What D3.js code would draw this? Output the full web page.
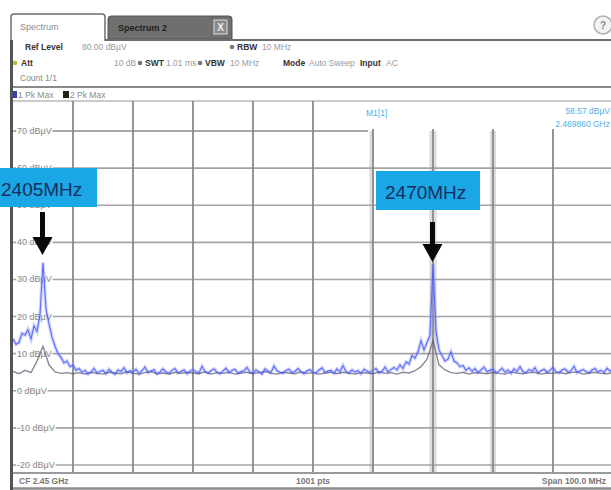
<!DOCTYPE html>
<html>
<head>
<meta charset="utf-8">
<script src="https://cdn.jsdelivr.net/npm/d3@7/dist/d3.min.js"></script>
<style>
  html, body { margin: 0; padding: 0; background: #ffffff; }
  svg { display: block; font-family: "Liberation Sans", Arial, sans-serif; }
</style>
</head>
<body>
<svg id="chart" width="611" height="490"></svg>
<script>
// ---------------- DATA ----------------
const freqStartMHz = 2400;
const freqStopMHz = 2500;
const yTickValues = [70, 60, 50, 40, 30, 20, 10, 0, -10, -20];
const yTickLabels = ["70 dBµV", "60 dBµV", "50 dBµV", "40 dBµV", "30 dBµV", "20 dBµV", "10 dBµV", "0 dBµV", "-10 dBµV", "-20 dBµV"];
const xGridFreqs = [2410, 2420, 2430, 2440, 2450, 2460, 2470, 2480, 2490];

// Trace 1 (blue, Pk Max) sampled every 0.5 MHz from 2400 to 2500 MHz
const trace1 = [
  14, 12.5, 13, 15.5, 15, 16.5, 14, 17.5, 16, 20.5, 34.5, 22, 18, 14.5, 12, 10, 9, 7.5, 8, 6.5,
  7, 5.5, 6, 5, 5.5, 4.5, 5, 6, 4.8, 5.2, 5.5, 4.6, 5.8, 5, 4.4, 5.6, 5.2, 6.2, 4.8, 5.4,
  5, 5.8, 4.6, 5.4, 6.4, 4.9, 5.3, 5.7, 4.5, 5.1, 5.9, 5, 4.7, 5.5, 6, 4.8, 5.2, 5.6, 4.6, 5.3,
  5.7, 5.1, 4.8, 6.6, 5.2, 4.7, 5.4, 5.9, 5, 4.6, 5.3, 6.1, 4.9, 5.5, 5.8, 4.7, 5.2, 5.4, 6.3, 5,
  4.8, 5.6, 5.1, 4.5, 5.9, 5.3, 4.9, 6.7, 5.4, 5, 4.7, 5.5, 5.8, 4.9, 5.2, 6, 5.1, 4.6, 5.4, 5.7,
  5, 4.8, 5.6, 6.2, 4.9, 5.3, 5.5, 4.7, 5.9, 5.1, 6.8, 5.2, 4.8, 5.6, 5, 5.4, 4.6, 5.8, 5.3, 4.9,
  5.5, 6, 4.8, 5.2, 6.4, 5, 5.7, 6.3, 5.6, 7, 6, 7.8, 7.2, 9.5, 8.8, 10.5, 13.5, 11, 13, 15,
  34, 16, 11, 9.5, 8, 8.5, 10.5, 8, 7.5, 6.5, 6.8, 5.5, 6.2, 5.2, 6, 4.9, 5.6, 6.4, 5.1, 5.5,
  5.8, 4.8, 5.3, 6.1, 5, 5.6, 4.7, 5.9, 5.2, 6.5, 5.1, 4.9, 5.7, 5.3, 6.2, 4.8, 5.4, 5.8, 5, 5.5,
  6.3, 5.1, 4.8, 5.6, 5.9, 5, 5.4, 6.6, 4.9, 5.3, 5.7, 5.2, 4.8, 5.6, 6, 5.1, 5.5, 4.9, 6.1, 5.3, 5.8
];
// Trace 2 (dark, second trace) sampled every 1 MHz from 2400 to 2500 MHz
const trace2 = [
  5.2, 4.6, 5.5, 4.9, 8, 12, 7, 5.1, 4.7, 4.9,
  4.6, 4.9, 4.5, 5, 4.7, 4.5, 5, 4.8, 4.6, 5.1,
  4.7, 4.5, 4.9, 5.2, 4.6, 4.8, 4.5, 5, 4.7, 5,
  4.8, 4.6, 5.1, 4.5, 4.9, 4.7, 5, 4.5, 4.8, 5,
  4.6, 4.9, 5.2, 4.7, 4.5, 5, 4.8, 4.6, 5.1, 4.7,
  4.9, 4.5, 4.8, 5, 4.6, 5, 4.7, 4.5, 4.9, 4.8,
  4.6, 5.1, 4.7, 4.9, 4.5, 5, 4.8, 5.4, 6.5, 8.5,
  13.5, 7, 5.6, 4.9, 4.7, 5, 4.5, 4.9, 4.8, 4.6,
  5, 4.7, 4.5, 5.1, 4.8, 4.6, 4.9, 5, 4.5, 4.8,
  4.7, 5, 4.6, 4.9, 5.1, 4.5, 4.8, 5, 4.7, 4.6, 4.9
];
const annotations = [
  { label: "2405MHz", freq: 2405 },
  { label: "2470MHz", freq: 2470 }
];
const headerRef = "80.00 dBµV";
const markerName = "M1[1]";
const markerLevel = "58.57 dBµV";
const markerFreq = "2.469860 GHz";
const footer = ["CF 2.45 GHz", "1001 pts", "Span 100.0 MHz"];

// ---------------- DRAW ----------------
const svg = d3.select("#chart");
const plot = { left: 13, right: 611, top: 101, bottom: 473 };
const x = d3.scaleLinear().domain([freqStartMHz, freqStopMHz]).range([13, 613]);
const y = d3.scaleLinear().domain([-20, 70]).range([465, 131]);

svg.append("rect").attr("width", 611).attr("height", 490).attr("fill", "#ffffff");

// ---- Tabs / header ----
svg.append("path")
  .attr("d", "M11,41 L11,17 Q11,14 14,14 L102,14 Q105,14 105,17 L105,41")
  .attr("fill", "#ffffff").attr("stroke", "#6e6e6e").attr("stroke-width", 1.5);
svg.append("text").attr("x", 20).attr("y", 30).attr("font-size", 9).attr("fill", "#8a8a8a").text("Spectrum");
svg.append("path")
  .attr("d", "M108,39 L108,19 Q108,16 111,16 L229,16 Q232,16 232,19 L232,39 Z")
  .attr("fill", "#6f6f6f").attr("stroke", "#555").attr("stroke-width", 1);
svg.append("text").attr("x", 118).attr("y", 31).attr("font-size", 9).attr("font-weight", "bold").attr("fill", "#1e1e1e").text("Spectrum 2");
svg.append("rect").attr("x", 214).attr("y", 20).attr("width", 13).attr("height", 14).attr("fill", "#8a8a8a").attr("stroke", "#ddd").attr("stroke-width", 1);
svg.append("text").attr("x", 220.5).attr("y", 31).attr("text-anchor", "middle").attr("font-size", 10).attr("font-weight", "bold").attr("fill", "#eee").text("X");
svg.append("circle").attr("cx", 603).attr("cy", 25).attr("r", 9).attr("fill", "#f2f2f2").attr("stroke", "#b0b0b0").attr("stroke-width", 1.5);
svg.append("text").attr("x", 603).attr("y", 29).attr("text-anchor", "middle").attr("font-size", 10).attr("font-weight", "bold").attr("fill", "#888").text("?");

svg.append("line").attr("x1", 105).attr("x2", 611).attr("y1", 40).attr("y2", 40).attr("stroke", "#6e6e6e").attr("stroke-width", 2);
svg.append("line").attr("x1", 12).attr("x2", 611).attr("y1", 87).attr("y2", 87).attr("stroke", "#8a8a8a").attr("stroke-width", 2);

function hdr(xp, yp, t, bold, col) {
  svg.append("text").attr("x", xp).attr("y", yp).attr("font-size", 8.5)
    .attr("font-weight", bold ? "bold" : "normal").attr("fill", col || (bold ? "#333" : "#9a9a9a")).text(t);
}
function dot(cx, cy, col) {
  svg.append("circle").attr("cx", cx).attr("cy", cy).attr("r", 2.3).attr("fill", col || "#777");
}
hdr(25, 50, "Ref Level", true);
hdr(82, 50, headerRef, false);
dot(232, 47);
hdr(237, 50, "RBW", true);
hdr(262, 50, "10 MHz", false);
dot(15, 63, "#b5bf3c");
hdr(21, 66, "Att", true);
hdr(114, 66, "10 dB", false);
dot(140, 63);
hdr(145, 66, "SWT", true);
hdr(166, 66, "1.01 ms", false);
dot(200, 63);
hdr(205, 66, "VBW", true);
hdr(230, 66, "10 MHz", false);
hdr(283, 66, "Mode", true);
hdr(309, 66, "Auto Sweep", false);
hdr(360, 66, "Input", true);
hdr(386, 66, "AC", false);
hdr(20, 81, "Count 1/1", false, "#8a8a8a");
svg.append("rect").attr("x", 11).attr("y", 91).attr("width", 6).attr("height", 7).attr("fill", "#3340b8");
hdr(18, 98, "1 Pk Max", false, "#8a8a8a");
svg.append("rect").attr("x", 63).attr("y", 91).attr("width", 6).attr("height", 7).attr("fill", "#222");
hdr(70, 98, "2 Pk Max", false, "#8a8a8a");

// ---- plot area ----
svg.append("line").attr("x1", 13).attr("x2", 611).attr("y1", plot.top).attr("y2", plot.top).attr("stroke", "#b8b8b8").attr("stroke-width", 1.5);

[[2470, 7], [2480, 6], [2460, 4]].forEach(([f, w]) => {
  svg.append("rect").attr("x", x(f) - w / 2 - (f === 2460 ? 1.5 : 0)).attr("y", 131).attr("width", w)
    .attr("height", plot.bottom - 131).attr("fill", "#dcdcdc");
});

svg.append("g").selectAll("line").data(yTickValues).join("line")
  .attr("x1", plot.left).attr("x2", d => d === 70 ? 368 : plot.right)
  .attr("y1", d => y(d)).attr("y2", d => y(d))
  .attr("stroke", d => d === 70 ? "#8c8c8c" : "#a4a4a4").attr("stroke-width", 1.6);

svg.append("g").selectAll("line").data(xGridFreqs).join("line")
  .attr("x1", d => x(d)).attr("x2", d => x(d))
  .attr("y1", d => x(d) > 368 ? 129 : plot.top).attr("y2", plot.bottom)
  .attr("stroke", "#8a8a8a").attr("stroke-width", 1.8);

svg.append("line").attr("x1", 12).attr("x2", 611).attr("y1", 473).attr("y2", 473).attr("stroke", "#9a9a9a").attr("stroke-width", 2);
svg.append("line").attr("x1", 12).attr("x2", 611).attr("y1", 488.5).attr("y2", 488.5).attr("stroke", "#8a8a8a").attr("stroke-width", 2.5);
svg.append("line").attr("x1", 11.5).attr("x2", 11.5).attr("y1", 40).attr("y2", 490).attr("stroke", "#555").attr("stroke-width", 3);

svg.append("text").attr("x", 19).attr("y", 484).attr("font-size", 8.5).attr("font-weight", "bold").attr("fill", "#777").text(footer[0]);
svg.append("text").attr("x", 313).attr("y", 484).attr("text-anchor", "middle").attr("font-size", 8.5).attr("font-weight", "bold").attr("fill", "#777").text(footer[1]);
svg.append("text").attr("x", 606).attr("y", 484).attr("text-anchor", "end").attr("font-size", 8.5).attr("font-weight", "bold").attr("fill", "#777").text(footer[2]);

const lab = svg.append("g");
yTickValues.forEach((v, i) => {
  const t = lab.append("text").attr("x", 17).attr("y", y(v) + 3).attr("font-size", 9).attr("fill", "#8a8a8a").text(yTickLabels[i]);
  const bb = t.node().getBBox();
  lab.insert("rect", "text").attr("x", bb.x - 1).attr("y", y(v) - 4).attr("width", bb.width + 2).attr("height", 8).attr("fill", "#ffffff").attr("opacity", 0.85);
});

svg.append("text").attr("x", 366).attr("y", 116).attr("font-size", 8.5).attr("fill", "#4ab2e6").text(markerName);
svg.append("text").attr("x", 610).attr("y", 114).attr("text-anchor", "end").attr("font-size", 8.5).attr("fill", "#4ab2e6").text(markerLevel);
svg.append("text").attr("x", 610).attr("y", 127).attr("text-anchor", "end").attr("font-size", 8.5).attr("fill", "#4ab2e6").text(markerFreq);

// traces
svg.append("clipPath").attr("id", "clip").append("rect")
  .attr("x", plot.left).attr("y", plot.top).attr("width", plot.right - plot.left).attr("height", plot.bottom - plot.top);
const tg = svg.append("g").attr("clip-path", "url(#clip)");
const line = d3.line().x(d => x(d[0])).y(d => y(d[1]));
const t1 = trace1.map((v, i) => [freqStartMHz + i * 0.5, v]);
const t2 = trace2.map((v, i) => [freqStartMHz + i * 1, v]);
tg.append("path").datum(t1).attr("d", line).attr("fill", "none")
  .attr("stroke", "#8a96ff").attr("stroke-width", 3.5).attr("opacity", 0.4);
tg.append("path").datum(t2).attr("d", line).attr("fill", "none")
  .attr("stroke", "#55556e").attr("stroke-width", 1.4).attr("opacity", 0.7);
tg.append("path").datum(t1).attr("d", line).attr("fill", "none")
  .attr("stroke", "#4a5aff").attr("stroke-width", 1.1).attr("opacity", 0.85);

// annotations
const boxes = [
  { x0: -2, x1: 97, y0: 168, y1: 207, tx: 1, ty: 196, ay0: 212, ay1: 255 },
  { x0: 376, x1: 480, y0: 171, y1: 210, tx: 385, ty: 199, ay0: 222, ay1: 262 }
];
annotations.forEach((a, i) => {
  const b = boxes[i];
  svg.append("rect").attr("x", b.x0).attr("y", b.y0).attr("width", b.x1 - b.x0).attr("height", b.y1 - b.y0).attr("fill", "#1ba6e6");
  svg.append("text").attr("x", b.tx).attr("y", b.ty).attr("font-size", 19).attr("fill", "#172f5c").text(a.label);
  const cx = x(a.freq) - 0.5;
  svg.append("path")
    .attr("d", `M${cx - 2.5},${b.ay0} L${cx + 2.5},${b.ay0} L${cx + 2.5},${b.ay1 - 18} L${cx + 10},${b.ay1 - 18} L${cx},${b.ay1} L${cx - 10},${b.ay1 - 18} L${cx - 2.5},${b.ay1 - 18} Z`)
    .attr("fill", "#0a0a0a");
});
</script>
</body>
</html>
